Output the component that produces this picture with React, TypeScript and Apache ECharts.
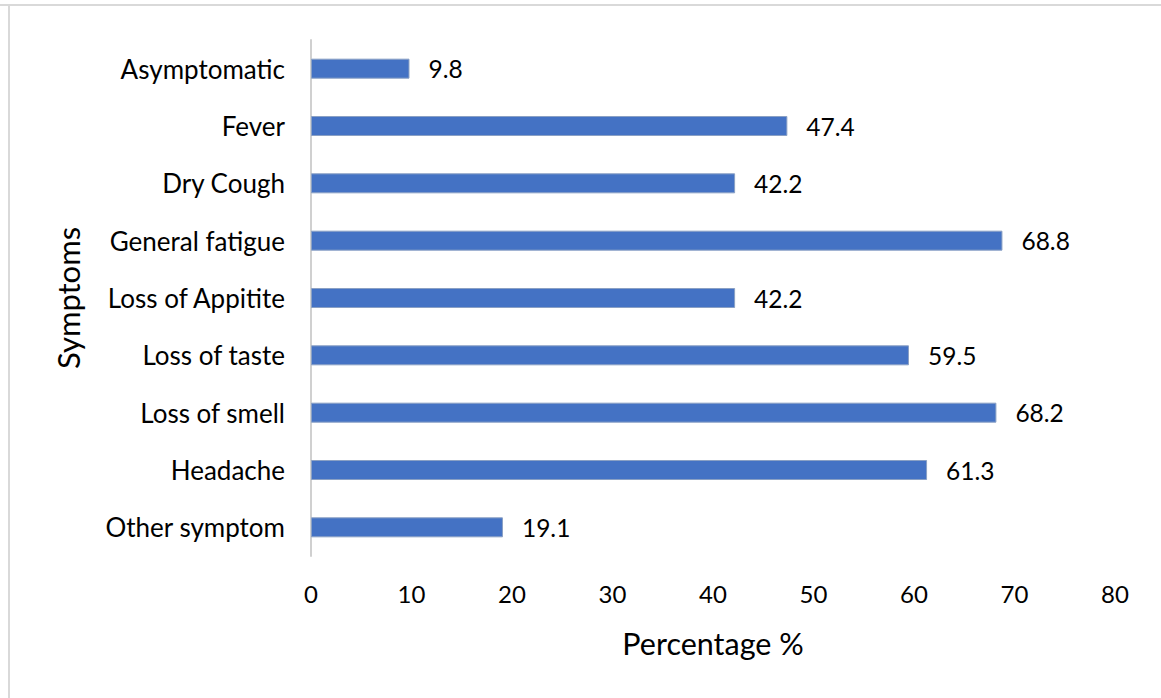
import React, { useEffect, useRef } from "react";
import * as echarts from "echarts";

const categories = [
  "Asymptomatic",
  "Fever",
  "Dry Cough",
  "General fatigue",
  "Loss of Appitite",
  "Loss of taste",
  "Loss of smell",
  "Headache",
  "Other symptom",
];
const values = [9.8, 47.4, 42.2, 68.8, 42.2, 59.5, 68.2, 61.3, 19.1];
const xTicks = [0, 10, 20, 30, 40, 50, 60, 70, 80];

const FONT = "Lato, sans-serif";

export default function App() {
  const ref = useRef<HTMLDivElement>(null);
  useEffect(() => {
    if (!ref.current) return;
    const chart = echarts.init(ref.current, undefined, { renderer: "svg" });
    chart.setOption({
      animation: false,
      backgroundColor: "#ffffff",
      textStyle: { fontFamily: FONT },
      grid: { left: 311, right: 46, top: 40, height: 516, containLabel: false },
      graphic: [
        { type: "rect", shape: { x: 0, y: 4, width: 1161, height: 2 }, style: { fill: "#d9d9d9" } },
        { type: "rect", shape: { x: 8, y: 4, width: 2, height: 694 }, style: { fill: "#d9d9d9" } },
      ],
      xAxis: {
        type: "value",
        min: xTicks[0],
        max: xTicks[xTicks.length - 1],
        interval: 10,
        splitLine: { show: false },
        axisLine: { show: false },
        axisTick: { show: false },
        axisLabel: { color: "#000", fontSize: 24, fontFamily: FONT, margin: 25 },
        name: "Percentage %",
        nameLocation: "middle",
        nameGap: 71,
        nameTextStyle: { color: "#000", fontSize: 30.5, fontFamily: FONT },
      },
      yAxis: {
        type: "category",
        data: categories,
        inverse: true,
        axisLine: { show: true, lineStyle: { color: "#d0d0d0", width: 2 } },
        axisTick: { show: false },
        axisLabel: { color: "#000", fontSize: 26, fontFamily: FONT, margin: 26 },
        name: "Symptoms",
        nameLocation: "middle",
        nameRotate: 90,
        nameGap: 228,
        nameTextStyle: { color: "#000", fontSize: 31, fontFamily: FONT },
      },
      series: [
        {
          type: "bar",
          data: values,
          barWidth: 20,
          itemStyle: { color: "#4472C4", borderColor: "#8aa0c4", borderWidth: 1 },
          label: {
            show: true,
            position: "right",
            distance: 19,
            color: "#000",
            fontSize: 24.5,
            fontFamily: FONT,
          },
        },
      ],
    });
    return () => chart.dispose();
  }, []);
  return (
    <div
      ref={ref}
      style={{ position: "absolute", left: 0, top: 0, width: 1161, height: 698 }}
    />
  );
}
